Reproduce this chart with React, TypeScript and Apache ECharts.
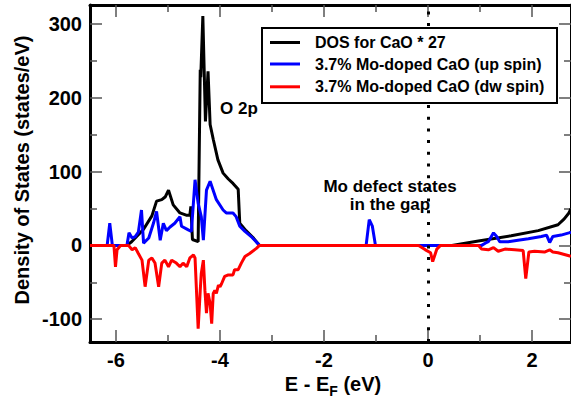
import React, { useEffect, useRef } from "react";
import * as echarts from "echarts";

// Total DOS of pure CaO (scaled by 27)
const caoEnergy = [-6.5, -5.79, -5.7, -5.63, -5.47, -5.31, -5.22, -5.12, -5.05, -4.99, -4.9, -4.77, -4.65, -4.58, -4.56, -4.53, -4.42, -4.38, -4.37, -4.33, -4.28, -4.23, -4.19, -4.13, -4.04, -3.94, -3.84, -3.75, -3.65, -3.62, -3.5, -3.37, -3.24, 0.46, 0.97, 1.6, 2.12, 2.5, 2.62, 2.71, 2.75];
const caoDos = [0, 0, 5, 10, 22, 40, 60, 62, 66, 75, 55, 44, 41, 41, 53, 8, 5, 238, 228, 311, 168, 236, 164, 144, 116, 98, 90, 84, 76, 30, 20, 11, 0, 0, 6, 13, 20, 28, 36, 44, 50];

// 3.7% Mo-doped CaO, spin up
const upEnergy = [-6.5, -6.17, -6.12, -6.07, -5.79, -5.75, -5.69, -5.63, -5.57, -5.51, -5.47, -5.37, -5.28, -5.22, -5.15, -5.09, -5.03, -4.96, -4.87, -4.77, -4.74, -4.61, -4.55, -4.48, -4.42, -4.36, -4.32, -4.26, -4.19, -4.07, -3.94, -3.88, -3.75, -3.69, -3.62, -3.52, -3.4, -3.24, -1.19, -1.13, -1.07, -1.01, 1.03, 1.1, 1.16, 1.26, 1.32, 1.38, 1.54, 1.73, 1.93, 2.18, 2.28, 2.34, 2.4, 2.56, 2.71, 2.75];
const upDos = [0, 0, 30, 0, 0, 17, 10, 12, 18, 48, 3, 10, 30, 46, 7, 30, 20, 25, 30, 39, 26, 21, 19, 89, 57, 39, 7, 75, 87, 62, 48, 44, 44, 39, 26, 19, 12, 0, 0, 35, 26, 0, 0, 3, 5, 17, 12, 5, 5, 7, 9, 12, 14, 4, 12, 14, 17, 18];

// 3.7% Mo-doped CaO, spin down (plotted negative)
const dwEnergy = [-6.5, -6.04, -6.01, -5.98, -5.91, -5.76, -5.69, -5.63, -5.57, -5.5, -5.44, -5.37, -5.31, -5.25, -5.18, -5.12, -5.06, -4.99, -4.93, -4.84, -4.77, -4.71, -4.64, -4.58, -4.51, -4.48, -4.42, -4.38, -4.36, -4.32, -4.29, -4.26, -4.23, -4.19, -4.16, -4.13, -4.1, -4.07, -4.03, -4.0, -3.97, -3.91, -3.84, -3.75, -3.72, -3.65, -3.59, -3.52, -3.43, -3.3, -3.24, -0.18, -0.05, 0.05, 0.09, 0.17, 0.24, 0.97, 1.03, 1.16, 1.26, 1.35, 1.48, 1.67, 1.83, 1.88, 1.94, 2.05, 2.24, 2.34, 2.4, 2.5, 2.71, 2.75];
const dwDos = [0, 0, -29, -6, 0, 0, -6, -3, -11, -20, -56, -20, -17, -24, -56, -24, -20, -29, -20, -24, -29, -24, -29, -17, -13, -17, -113, -61, -38, -20, -61, -92, -65, -79, -106, -65, -61, -65, -54, -56, -52, -42, -40, -40, -33, -33, -24, -15, -11, -4, 0, 0, -6, -10, -22, -5, 0, 0, -5, -6, -3, -8, -5, -6, -7, -45, -9, -8, -9, -6, -9, -10, -14, -15];

const seriesNames = [
  "DOS for CaO * 27",
  "3.7% Mo-doped CaO (up spin)",
  "3.7% Mo-doped CaO (dw spin)",
];
const seriesColors = ["#000000", "#0000ff", "#ff0000"];

const xMajorTicks = [-6, -4, -2, 0, 2];
const xMinorTicks = [-5, -3, -1, 1];
const yMajorTicks = [-100, 0, 100, 200, 300];
const yMinorTicks = [-50, 50, 150, 250];
const fermiLevel = 0;

const X_MIN = -6.5;
const X_MAX = 2.75;
const Y_MIN = -131;
const Y_MAX = 326;

const FONT = '"Liberation Sans", Arial, Helvetica, sans-serif';

const zip = (xs: number[], ys: number[]) => xs.map((x, i) => [x, ys[i]]);

function measure(text: string, size: number) {
  const ctx = document.createElement("canvas").getContext("2d");
  if (!ctx) return text.length * size * 0.6;
  ctx.font = `bold ${size}px ${FONT}`;
  return ctx.measureText(text).width;
}

export default function App() {
  const ref = useRef<HTMLDivElement>(null);

  useEffect(() => {
    if (!ref.current) return;
    const chart = echarts.init(ref.current, null, { renderer: "svg" });

    const tickLine = { color: "#555", width: 1.5 };
    const frame = { onZero: false, lineStyle: { color: "#000", width: 3 } };

    const xAxisOf = (position: "bottom" | "top", major: boolean) => ({
      type: "value",
      min: X_MIN,
      max: X_MAX,
      position,
      axisLine: major ? { show: true, ...frame } : { show: false, onZero: false },
      axisTick: {
        show: true,
        inside: true,
        length: major ? 12 : 7,
        customValues: major ? xMajorTicks : xMinorTicks,
        lineStyle: tickLine,
      },
      axisLabel:
        major && position === "bottom"
          ? {
              show: true,
              customValues: xMajorTicks,
              formatter: (v: number) => String(v),
              color: "#000",
              fontFamily: FONT,
              fontWeight: "bold",
              fontSize: 20,
              margin: 8,
            }
          : { show: false },
      splitLine: { show: false },
    });

    const yAxisOf = (position: "left" | "right", major: boolean) => ({
      type: "value",
      min: Y_MIN,
      max: Y_MAX,
      position,
      axisLine: major ? { show: true, ...frame } : { show: false, onZero: false },
      axisTick: {
        show: true,
        inside: true,
        length: major ? 12 : 7,
        customValues: major ? yMajorTicks : yMinorTicks,
        lineStyle: tickLine,
      },
      axisLabel:
        major && position === "left"
          ? {
              show: true,
              customValues: yMajorTicks,
              formatter: (v: number) => String(v),
              color: "#000",
              fontFamily: FONT,
              fontWeight: "bold",
              fontSize: 20,
              margin: 8,
            }
          : { show: false },
      splitLine: { show: false },
    });

    const lineSeries = (i: number, data: number[][]) => ({
      name: seriesNames[i],
      type: "line",
      data,
      xAxisIndex: 0,
      yAxisIndex: 0,
      showSymbol: false,
      symbol: "none",
      clip: true,
      lineStyle: { color: seriesColors[i], width: 3 },
      itemStyle: { color: seriesColors[i] },
    });

    const legendRowsY = [42.5, 64, 86.8];
    const textFont = { fontFamily: FONT, fontWeight: "bold", fill: "#000" };

    // x-axis title: "E - E" + subscript "F" + " (eV)"
    const titleMain = "E - E";
    const titleSub = "F";
    const titleTail = " (eV)";
    const wMain = measure(titleMain, 20);
    const wSub = measure(titleSub, 14);
    const wTail = measure(titleTail, 20);
    const titleLeft = 333 - (wMain + wSub + wTail) / 2;

    chart.setOption({
      animation: false,
      backgroundColor: "#fff",
      grid: { left: 90, top: 5, width: 484, height: 337, containLabel: false },
      xAxis: [
        xAxisOf("bottom", true),
        xAxisOf("bottom", false),
        xAxisOf("top", true),
        xAxisOf("top", false),
      ],
      yAxis: [
        yAxisOf("left", true),
        yAxisOf("left", false),
        yAxisOf("right", true),
        yAxisOf("right", false),
      ],
      series: [
        {
          ...lineSeries(0, zip(caoEnergy, caoDos)),
          markLine: {
            silent: true,
            symbol: ["none", "none"],
            label: { show: false },
            lineStyle: { color: "#000", width: 3, type: [3, 8.7], cap: "butt" },
            data: [{ xAxis: fermiLevel }],
          },
        },
        lineSeries(1, zip(upEnergy, upDos)),
        lineSeries(2, zip(dwEnergy, dwDos)),
      ],
      graphic: [
        // legend box
        {
          type: "rect",
          shape: { x: 262, y: 28, width: 295, height: 75 },
          style: { fill: "#fff", stroke: "#000", lineWidth: 2 },
          z: 100,
        },
        ...legendRowsY.map((y, i) => ({
          type: "line",
          z: 101,
          shape: { x1: 270, y1: y, x2: 300, y2: y },
          style: { stroke: seriesColors[i], lineWidth: 3 },
        })),
        ...legendRowsY.map((y, i) => ({
          type: "text",
          z: 101,
          x: 315,
          y,
          style: {
            ...textFont,
            text: seriesNames[i],
            fontSize: 16,
            align: "left",
            verticalAlign: "middle",
          },
        })),
        {
          type: "text",
          x: 220,
          y: 108,
          z: 101,
          style: { ...textFont, text: "O 2p", fontSize: 17, align: "left", verticalAlign: "middle" },
        },
        {
          type: "text",
          x: 390,
          y: 186.5,
          z: 101,
          style: { ...textFont, text: "Mo defect states", fontSize: 17, align: "center", verticalAlign: "middle" },
        },
        {
          type: "text",
          x: 390,
          y: 204,
          z: 101,
          style: { ...textFont, text: "in the gap", fontSize: 17, align: "center", verticalAlign: "middle" },
        },
        {
          type: "text",
          x: 22,
          y: 170,
          rotation: Math.PI / 2,
          style: {
            ...textFont,
            text: "Density of States (states/eV)",
            fontSize: 20,
            align: "center",
            verticalAlign: "middle",
          },
        },
        {
          type: "text",
          x: titleLeft,
          y: 384,
          style: { ...textFont, text: titleMain, fontSize: 20, align: "left", verticalAlign: "middle" },
        },
        {
          type: "text",
          x: titleLeft + wMain,
          y: 391,
          style: { ...textFont, text: titleSub, fontSize: 14, align: "left", verticalAlign: "middle" },
        },
        {
          type: "text",
          x: titleLeft + wMain + wSub,
          y: 384,
          style: { ...textFont, text: titleTail, fontSize: 20, align: "left", verticalAlign: "middle" },
        },
      ],
    });

    return () => chart.dispose();
  }, []);

  return (
    <div
      ref={ref}
      style={{ position: "fixed", left: 0, top: 0, width: 571, height: 400, background: "#fff" }}
    />
  );
}
